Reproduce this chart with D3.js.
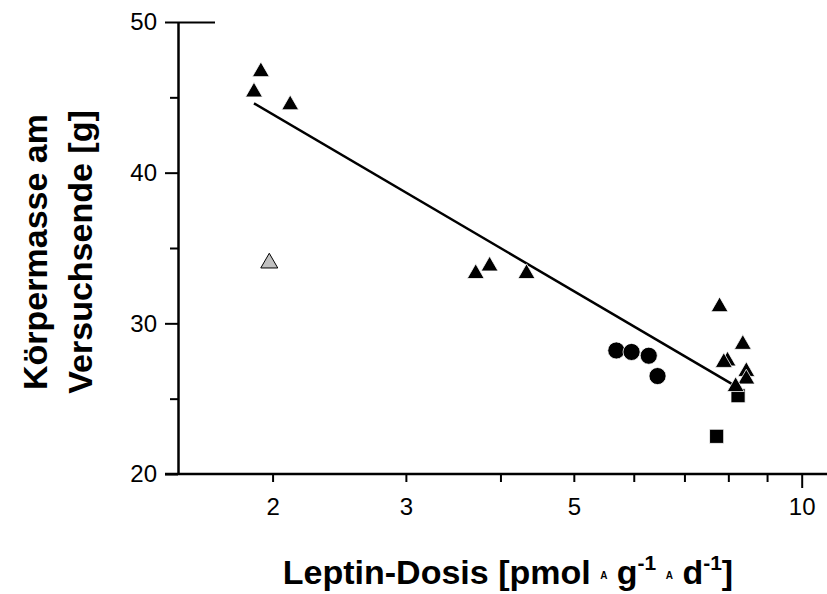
<!DOCTYPE html>
<html>
<head>
<meta charset="utf-8">
<script src="https://cdn.jsdelivr.net/npm/d3@7"></script>
<style>
  body { margin: 0; background: #fff; }
  svg { font-family: Arial, "Liberation Sans", sans-serif; }
</style>
</head>
<body>
<svg id="chart"></svg>
<script>
// Leptin dose [pmol g-1 d-1] vs body mass at end of experiment [g]
const triDose = [1.89, 1.93, 2.11, 3.71, 3.87, 4.33, 7.79, 8.36, 7.98, 7.89, 8.45, 8.45, 8.18];
const triMass = [45.35, 46.7, 44.5, 33.3, 33.8, 33.3, 31.1, 28.6, 27.5, 27.4, 26.8, 26.3, 25.8];
const greyDose = [1.98];
const greyMass = [34.0];
const circDose = [5.69, 5.96, 6.28, 6.45];
const circMass = [28.2, 28.1, 27.85, 26.5];
const sqDose = [8.24, 7.72];
const sqMass = [25.2, 22.5];
// regression line end points
const fitDose = [1.89, 8.2];
const fitMass = [44.6, 25.8];

const xTicks = [2, 3, 4, 5, 6, 7, 8, 9, 10];
const xLabels = [2, 3, 5, 10];
const yTicks = [20, 25, 30, 35, 40, 45, 50];
const yLabels = [20, 30, 40, 50];

const width = 827, height = 594;
const svg = d3.select('#chart').attr('width', width).attr('height', height);

const x = d3.scaleLog().domain([1.5, 10.8]).range([178, 827]);
const y = d3.scaleLinear().domain([20, 50]).range([474, 22]);

const zip = (a, b) => a.map((d, i) => ({ x: d, y: b[i] }));

// X axis
const xAxis = svg.append('g')
  .attr('transform', `translate(0,${y(20)})`)
  .call(d3.axisBottom(x).tickValues(xTicks).tickSize(8).tickSizeOuter(0).tickPadding(16)
    .tickFormat(d => xLabels.includes(d) ? d : ''));
xAxis.select('.domain').attr('stroke-width', 2.5).attr('d', `M${x.range()[0] - 13},0H${x.range()[1]}`);
xAxis.selectAll('.tick line').attr('stroke-width', 2).attr('y2', d => d === 10 ? 14 : 8);
xAxis.selectAll('.tick text').attr('font-size', 24).attr('fill', '#000');

// Y axis
const yAxis = svg.append('g')
  .attr('transform', `translate(${x.range()[0]},0)`)
  .call(d3.axisLeft(y).tickValues(yTicks).tickSize(13).tickSizeOuter(0).tickPadding(8)
    .tickFormat(d => yLabels.includes(d) ? d : ''));
yAxis.select('.domain').attr('stroke-width', 2.5);
yAxis.selectAll('.tick line').attr('stroke-width', 2)
  .attr('x1', d => d === 50 ? 37 : 0)
  .attr('x2', d => yLabels.includes(d) ? -13 : -8);
yAxis.selectAll('.tick text').attr('font-size', 24).attr('fill', '#000');

// regression line
svg.append('path')
  .datum(zip(fitDose, fitMass))
  .attr('fill', 'none')
  .attr('stroke', '#000')
  .attr('stroke-width', 2.5)
  .attr('d', d3.line().x(d => x(d.x)).y(d => y(d.y)));

function drawSymbols(data, type, size, fill) {
  svg.append('g').selectAll('path')
    .data(data)
    .enter()
    .append('path')
    .attr('transform', d => `translate(${x(d.x)},${y(d.y)})`)
    .attr('d', d3.symbol().type(type).size(size))
    .attr('fill', fill)
    .attr('stroke', fill === '#000' ? '#fff' : '#000')
    .attr('stroke-width', fill === '#000' ? 0.8 : 1);
}

drawSymbols(zip(sqDose, sqMass), d3.symbolSquare, 200, '#000');
drawSymbols(zip(circDose, circMass), d3.symbolCircle, 230, '#000');
drawSymbols(zip(triDose, triMass), d3.symbolTriangle, 125, '#000');
drawSymbols(zip(greyDose, greyMass), d3.symbolTriangle, 125, '#c0c0c0');

// X title
const xt = svg.append('text')
  .attr('x', 508).attr('y', 584)
  .attr('text-anchor', 'middle')
  .attr('font-size', 34).attr('font-weight', 'bold');
xt.append('tspan').text('Leptin-Dosis [pmol ');
xt.append('tspan').attr('font-size', 10).attr('dy', -5).text('A');
xt.append('tspan').attr('dy', 5).text(' g');
xt.append('tspan').attr('font-size', 21).attr('dy', -14).text('-1');
xt.append('tspan').attr('dy', 14).text(' ');
xt.append('tspan').attr('font-size', 10).attr('dy', -5).text('A');
xt.append('tspan').attr('dy', 5).text(' d');
xt.append('tspan').attr('font-size', 21).attr('dy', -14).text('-1');
xt.append('tspan').attr('dy', 14).text(']');

// Y title
const yt = svg.append('text')
  .attr('transform', 'translate(0,252) rotate(-90)')
  .attr('text-anchor', 'middle')
  .attr('font-size', 34).attr('font-weight', 'bold');
yt.append('tspan').attr('x', 0).attr('y', 47).text('Körpermasse am');
yt.append('tspan').attr('x', 0).attr('y', 92).text('Versuchsende [g]');
</script>
</body>
</html>
